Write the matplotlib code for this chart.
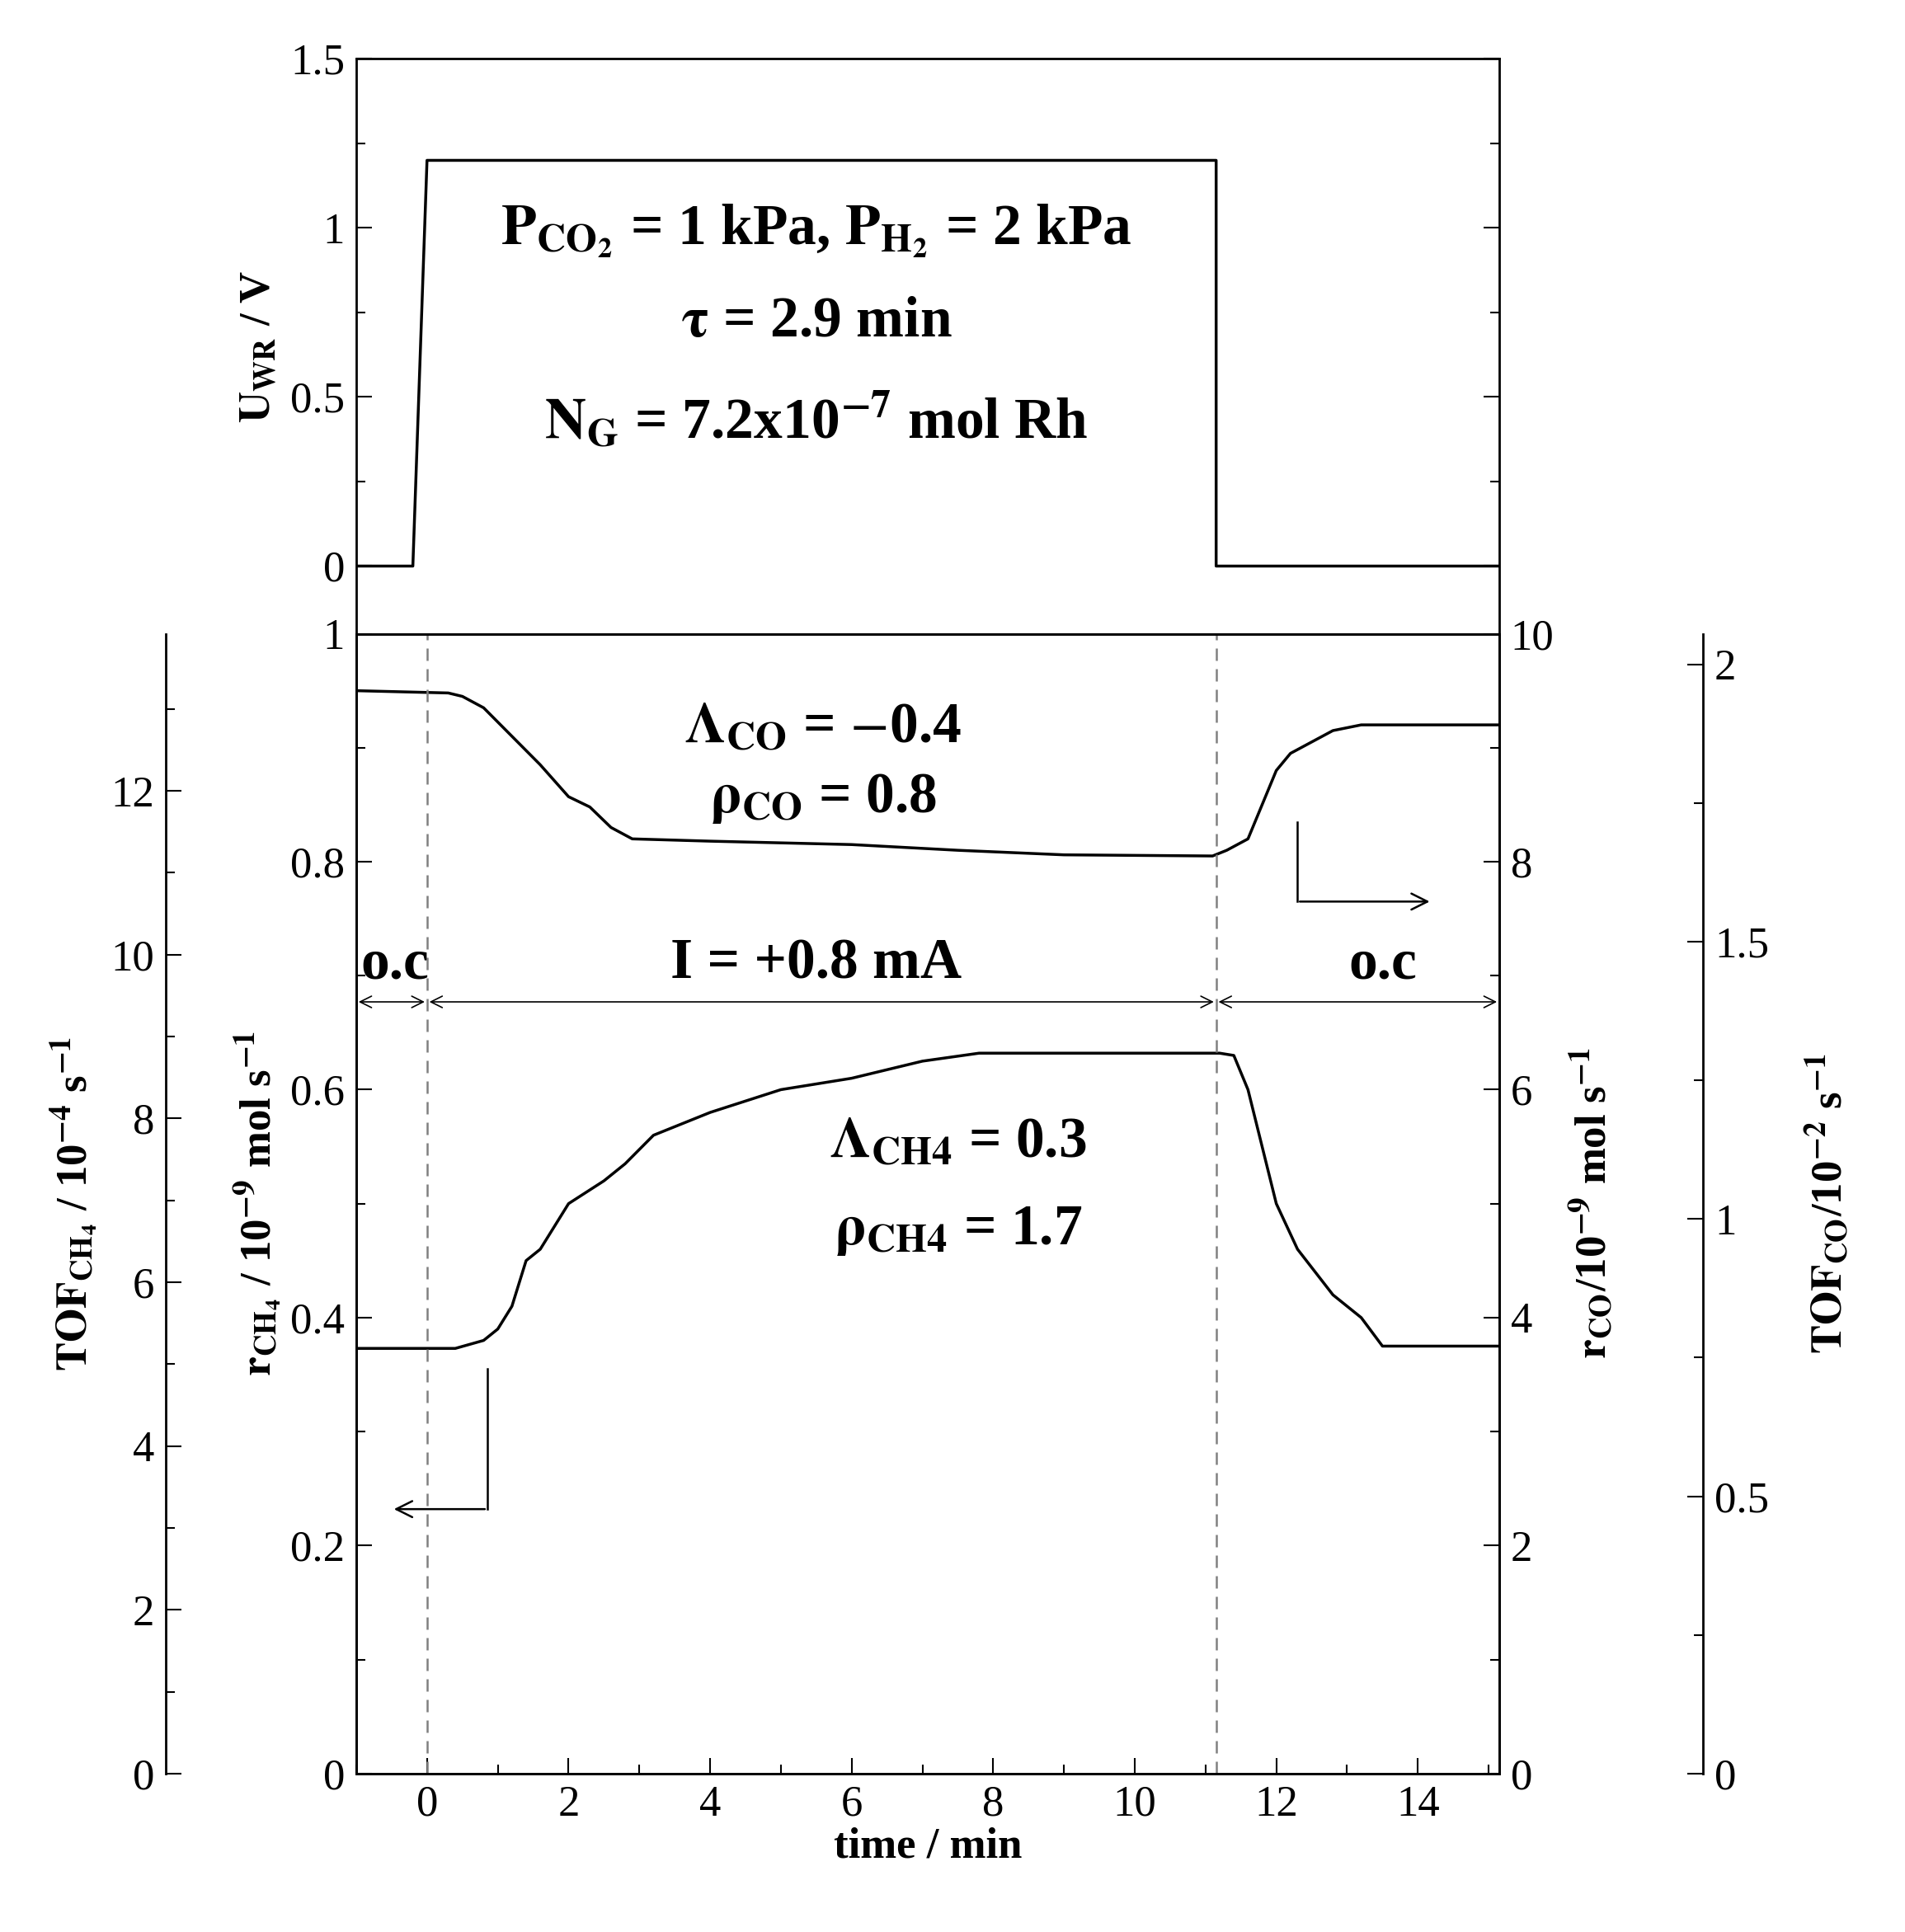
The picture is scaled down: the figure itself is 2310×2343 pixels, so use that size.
import matplotlib.pyplot as plt
import numpy as np
from matplotlib.ticker import MultipleLocator

plt.rcParams['font.family'] = ['Liberation Serif', 'DejaVu Serif']
plt.rcParams['mathtext.fontset'] = 'stix'

# applied potential
t_u = [-1.0, -0.2, 0.0, 11.15, 11.15, 15.15]
u_wr = [0.0, 0.0, 1.2, 1.2, 0.0, 0.0]

# CO rate (left-axis units, 0..1 -> r_CO 0..10)
t_co = [-1.0, 0.3, 0.5, 0.8, 1.2, 1.6, 2.0, 2.3, 2.6, 2.9, 4.0, 6.0, 7.5, 9.0,
        11.1, 11.3, 11.6, 11.8, 12.0, 12.2, 12.5, 12.8, 13.2, 15.15]
r_co = [0.95, 0.948, 0.945, 0.935, 0.91, 0.885, 0.857, 0.848, 0.83, 0.82, 0.818,
        0.815, 0.81, 0.806, 0.805, 0.81, 0.82, 0.85, 0.88, 0.895, 0.905, 0.915,
        0.92, 0.92]

# CH4 rate (10^-9 mol/s)
t_ch4 = [-1.0, 0.4, 0.8, 1.0, 1.2, 1.4, 1.6, 1.8, 2.0, 2.5, 2.8, 3.2, 4.0, 4.5,
         5.0, 6.0, 7.0, 7.8, 11.2, 11.4, 11.6, 11.8, 12.0, 12.3, 12.8, 13.2,
         13.5, 15.15]
r_ch4 = [0.373, 0.373, 0.38, 0.39, 0.41, 0.45, 0.46, 0.48, 0.50, 0.52, 0.535,
         0.56, 0.58, 0.59, 0.60, 0.61, 0.625, 0.632, 0.632, 0.63, 0.60, 0.55,
         0.50, 0.46, 0.42, 0.40, 0.375, 0.375]

FS = 38
LFS = 38
AFS = 50
fig = plt.figure(figsize=(23.1, 23.43), dpi=100)
L, R = 0.187, 0.787
ax_top = fig.add_axes([L, 0.672, R - L, 0.2975])
ax = fig.add_axes([L, 0.082, R - L, 0.59])

ax_top.plot(t_u, u_wr, color='black', lw=2.5)
ax_top.set_xlim(-1, 15.15)
ax_top.set_ylim(-0.2, 1.5)
ax_top.set_xticks([])
ax_top.yaxis.set_minor_locator(MultipleLocator(0.25))
ax_top.set_yticks([0, 0.5, 1, 1.5], ['0', '0.5', '1', '1.5'])
ax_top.tick_params(which='both', direction='in', right=True, labelsize=FS, length=14, width=1.5, pad=10)
ax_top.tick_params(which='minor', length=8)
ax_top.set_ylabel(r'$\mathbf{U_{WR}}$ / V', fontsize=LFS, fontweight='bold', labelpad=10)
ax_top.text(5.5, 0.99, r'$\mathbf{P_{CO_2}}$ = 1 kPa, $\mathbf{P_{H_2}}$ = 2 kPa',
            ha='center', va='center', fontsize=AFS, fontweight='bold')
ax_top.text(5.5, 0.72, r'$\mathbf{\tau}$ = 2.9 min', ha='center', va='center', fontsize=AFS, fontweight='bold')
ax_top.text(5.5, 0.43, r'$\mathbf{N_G}$ = 7.2x10$^{\mathbf{-7}}$ mol Rh', ha='center', va='center',
            fontsize=AFS, fontweight='bold')

ax.plot(t_co, r_co, color='black', lw=2.5)
ax.plot(t_ch4, r_ch4, color='black', lw=2.5)
ax.set_xlim(-1, 15.15)
ax.set_ylim(0, 1)
ax.xaxis.set_major_locator(MultipleLocator(2))
ax.xaxis.set_minor_locator(MultipleLocator(1))
ax.yaxis.set_minor_locator(MultipleLocator(0.1))
ax.set_yticks([0, 0.2, 0.4, 0.6, 0.8, 1], ['0', '0.2', '0.4', '0.6', '0.8', '1'])
ax.tick_params(which='both', direction='in', top=False, labelsize=FS, length=14, width=1.5, pad=10)
ax.tick_params(which='minor', length=8)
ax.set_xlabel('time / min', fontsize=LFS, fontweight='bold', labelpad=2)
ax.set_ylabel(r'$\mathbf{r_{CH_4}}$ / 10$^{\mathbf{-9}}$ mol s$^{\mathbf{-1}}$', fontsize=LFS,
              fontweight='bold', labelpad=6)

for xv in [0, 11.15]:
    ax.axvline(xv, color='gray', ls=(0, (6, 4)), lw=1.8)

ya = 0.677
for x0, x1 in [(-1, 0), (0, 11.15), (11.15, 15.15)]:
    ax.annotate('', xy=(x0, ya), xytext=(x1, ya),
                arrowprops=dict(arrowstyle='<->', color='black', lw=1.2, mutation_scale=25))
ax.text(-0.45, 0.71, 'o.c', ha='center', va='center', fontsize=AFS, fontweight='bold')
ax.text(5.5, 0.71, 'I = +0.8 mA', ha='center', va='center', fontsize=AFS, fontweight='bold')
ax.text(13.5, 0.71, 'o.c', ha='center', va='center', fontsize=AFS, fontweight='bold')
ax.text(5.6, 0.917, r'$\mathbf{\Lambda_{CO}}$ = $-$0.4', ha='center', va='center', fontsize=AFS, fontweight='bold')
ax.text(5.6, 0.855, r'$\mathbf{\rho_{CO}}$ = 0.8', ha='center', va='center', fontsize=AFS, fontweight='bold')
ax.text(7.5, 0.553, r'$\mathbf{\Lambda_{CH4}}$ = 0.3', ha='center', va='center', fontsize=AFS, fontweight='bold')
ax.text(7.5, 0.476, r'$\mathbf{\rho_{CH4}}$ = 1.7', ha='center', va='center', fontsize=AFS, fontweight='bold')

# bent arrows
ax.plot([12.3, 12.3], [0.835, 0.765], color='black', lw=1.8)
ax.annotate('', xy=(14.2, 0.765), xytext=(12.3, 0.765),
            arrowprops=dict(arrowstyle='->', color='black', lw=1.8, mutation_scale=35))
ax.plot([0.85, 0.85], [0.355, 0.232], color='black', lw=1.8)
ax.annotate('', xy=(-0.5, 0.232), xytext=(0.85, 0.232),
            arrowprops=dict(arrowstyle='->', color='black', lw=1.8, mutation_scale=35))

# right: r_CO
axr = ax.twinx()
axr.set_ylim(0, 10)
axr.yaxis.set_major_locator(MultipleLocator(2))
axr.yaxis.set_minor_locator(MultipleLocator(1))
axr.tick_params(which='both', direction='in', labelsize=FS, length=14, width=1.5, pad=10)
axr.tick_params(which='minor', length=8)
axr.set_ylabel(r'$\mathbf{r_{CO}}$/10$^{\mathbf{-9}}$ mol s$^{\mathbf{-1}}$', fontsize=LFS, fontweight='bold',
               labelpad=12)

# far left: TOF CH4
axl = fig.add_axes([0.087, 0.082, 0.001, 0.59])
axl.set_ylim(0, 13.92)
for s in ['top', 'bottom', 'right']:
    axl.spines[s].set_visible(False)
axl.set_xticks([])
axl.patch.set_visible(False)
axl.yaxis.set_major_locator(MultipleLocator(2))
axl.yaxis.set_minor_locator(MultipleLocator(1))
axl.tick_params(which='both', direction='in', labelsize=FS, length=14, width=1.5, pad=10)
axl.tick_params(which='minor', length=8)
axl.set_ylabel(r'$\mathbf{TOF_{CH_4}}$ / 10$^{\mathbf{-4}}$ s$^{\mathbf{-1}}$', fontsize=LFS,
               fontweight='bold', labelpad=10)

# far right: TOF CO
axf = fig.add_axes([0.893, 0.082, 0.001, 0.59])
axf.set_ylim(0, 2.055)
for s in ['top', 'bottom', 'left']:
    axf.spines[s].set_visible(False)
axf.set_xticks([])
axf.patch.set_visible(False)
axf.yaxis.tick_right()
axf.yaxis.set_label_position('right')
axf.yaxis.set_minor_locator(MultipleLocator(0.25))
axf.set_yticks([0, 0.5, 1, 1.5, 2], ['0', '0.5', '1', '1.5', '2'])
axf.tick_params(which='both', direction='in', labelsize=FS, length=14, width=1.5, pad=10)
axf.tick_params(which='minor', length=8)
axf.set_ylabel(r'$\mathbf{TOF_{CO}}$/10$^{\mathbf{-2}}$ s$^{\mathbf{-1}}$', fontsize=LFS, fontweight='bold',
               labelpad=30)

for a in [ax_top, ax, axr, axl, axf]:
    for s in a.spines.values():
        s.set_linewidth(2)

fig.savefig('out.png', dpi=100)
